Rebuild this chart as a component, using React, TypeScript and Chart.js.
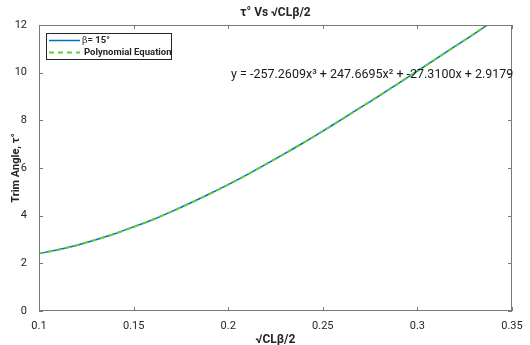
import React, { useEffect, useRef } from "react";
import { Chart, registerables } from "chart.js";

Chart.register(...registerables);

const xValues = [0.1, 0.11, 0.12, 0.13, 0.14, 0.15, 0.16, 0.17, 0.18, 0.19, 0.2, 0.21, 0.22, 0.23, 0.24, 0.25, 0.26, 0.27, 0.28, 0.29, 0.3, 0.31, 0.32, 0.33, 0.337];
const trimAngle = [2.41, 2.57, 2.76, 2.99, 3.24, 3.53, 3.83, 4.17, 4.53, 4.91, 5.3, 5.72, 6.16, 6.61, 7.07, 7.55, 8.04, 8.54, 9.04, 9.55, 10.07, 10.59, 11.11, 11.63, 12.0];
const polyFit = [2.41, 2.57, 2.76, 2.99, 3.24, 3.53, 3.83, 4.17, 4.53, 4.91, 5.3, 5.72, 6.16, 6.61, 7.07, 7.55, 8.04, 8.54, 9.04, 9.55, 10.07, 10.59, 11.11, 11.63, 12.0];
const xTickLabels = ["0.1", "0.15", "0.2", "0.25", "0.3", "0.35"];
const yTickLabels = ["0", "2", "4", "6", "8", "10", "12"];
const titleText = "τ° Vs √CLβ/2";
const xTitle = "√CLβ/2";
const yTitle = "Trim Angle, τ°";
const seriesNames = ["β= 15°", "Polynomial Equation"];
const equationText = "y = -257.2609x³ + 247.6695x² + -27.3100x + 2.9179";

const FONT = "Roboto, 'Liberation Sans', sans-serif";
const AXIS = "#7a7a7a";
const TEXT = "#262626";
const BLUE = "#0072BD";
const GREEN = "#66CC33";

const decorPlugin = {
  id: "decor",
  afterDatasetsDraw(chart: any) {
    const { ctx, chartArea: a, scales } = chart;
    const xs = scales.x;
    const ys = scales.y;
    ctx.save();
    // frame
    ctx.strokeStyle = AXIS;
    ctx.lineWidth = 1;
    ctx.strokeRect(a.left + 0.5, a.top + 0.5, a.right - a.left - 1, a.bottom - a.top - 1);
    // inner ticks
    const tl = 4;
    ctx.beginPath();
    xs.ticks.forEach((t: any) => {
      const px = Math.round(xs.getPixelForValue(t.value)) + 0.5;
      ctx.moveTo(px, a.bottom);
      ctx.lineTo(px, a.bottom - tl);
      ctx.moveTo(px, a.top);
      ctx.lineTo(px, a.top + tl);
    });
    ys.ticks.forEach((t: any) => {
      const py = Math.round(ys.getPixelForValue(t.value)) + 0.5;
      ctx.moveTo(a.left, py);
      ctx.lineTo(a.left + tl, py);
      ctx.moveTo(a.right, py);
      ctx.lineTo(a.right - tl, py);
    });
    ctx.stroke();

    // title
    ctx.fillStyle = TEXT;
    ctx.font = `bold 12px ${FONT}`;
    ctx.textAlign = "center";
    ctx.textBaseline = "middle";
    ctx.fillText(titleText, (a.left + a.right) / 2, 13);

    // equation
    ctx.font = `12.5px ${FONT}`;
    ctx.textAlign = "left";
    ctx.fillStyle = "#1a1a1a";
    ctx.fillText(equationText, xs.getPixelForValue(0.2015), ys.getPixelForValue(9.9));

    // legend
    const lx = a.left + 7;
    const ly = a.top + 8;
    const lw = 125;
    const lh = 26;
    ctx.fillStyle = "#ffffff";
    ctx.fillRect(lx, ly, lw, lh);
    ctx.strokeStyle = "#262626";
    ctx.lineWidth = 1;
    ctx.strokeRect(lx + 0.5, ly + 0.5, lw, lh);
    const ds = chart.data.datasets;
    const rows = [ly + 7.5, ly + 19.5];
    rows.forEach((ry: number, i: number) => {
      ctx.save();
      ctx.strokeStyle = ds[i].borderColor;
      ctx.lineWidth = ds[i].borderWidth;
      ctx.setLineDash(ds[i].borderDash || []);
      ctx.beginPath();
      ctx.moveTo(lx + 3, ry);
      ctx.lineTo(lx + 34, ry);
      ctx.stroke();
      ctx.restore();
    });
    ctx.fillStyle = TEXT;
    ctx.textBaseline = "middle";
    ctx.textAlign = "left";
    ctx.font = `9.5px 'DejaVu Serif', serif`;
    ctx.fillText(seriesNames[0].slice(0, 1), lx + 36, rows[0]);
    const bw = ctx.measureText(seriesNames[0].slice(0, 1)).width;
    ctx.font = `bold 9.5px ${FONT}`;
    ctx.fillText(seriesNames[0].slice(1), lx + 36 + bw, rows[0]);
    ctx.fillText(seriesNames[1], lx + 38, rows[1]);
    ctx.restore();
  },
};

export default function App() {
  const ref = useRef<HTMLCanvasElement | null>(null);
  useEffect(() => {
    document.body.style.margin = "0";
    const canvas = ref.current;
    if (!canvas) return;
    const chart = new Chart(canvas, {
      type: "line",
      data: {
        datasets: [
          {
            label: seriesNames[0],
            data: xValues.map((x, i) => ({ x, y: trimAngle[i] })),
            borderColor: BLUE,
            borderWidth: 1.5,
            pointRadius: 0,
            tension: 0.3,
            fill: false,
            order: 2,
          },
          {
            label: seriesNames[1],
            data: xValues.map((x, i) => ({ x, y: polyFit[i] })),
            borderColor: GREEN,
            borderWidth: 2,
            borderDash: [5, 4],
            pointRadius: 0,
            tension: 0.3,
            fill: false,
            order: 1,
          },
        ],
      },
      options: {
        animation: false,
        responsive: false,
        maintainAspectRatio: false,
        layout: { padding: { top: 25, right: 18, left: 0, bottom: 0 } },
        plugins: {
          legend: { display: false },
          title: { display: false },
          tooltip: { enabled: false },
        },
        scales: {
          x: {
            type: "linear",
            min: 0.1,
            max: 0.35,
            grid: { display: false },
            border: { display: false },
            ticks: {
              stepSize: 0.05,
              color: TEXT,
              padding: 1,
              maxRotation: 0,
              font: { family: FONT, size: 11 },
              callback: (_v: any, i: number) => xTickLabels[i],
            },
            title: {
              display: true,
              text: xTitle,
              color: TEXT,
              font: { family: FONT, size: 12, weight: "bold" },
              padding: { top: 0, bottom: -2 },
            },
            afterFit: (s: any) => {
              s.height = 34;
            },
          },
          y: {
            min: 0,
            max: 12,
            grid: { display: false },
            border: { display: false },
            ticks: {
              stepSize: 2,
              color: TEXT,
              padding: 4,
              font: { family: FONT, size: 11 },
              callback: (_v: any, i: number) => yTickLabels[i],
            },
            title: {
              display: true,
              text: yTitle,
              color: TEXT,
              font: { family: FONT, size: 11, weight: "bold" },
              padding: { top: 10, bottom: 0 },
            },
            afterFit: (s: any) => {
              s.width = 39;
            },
          },
        },
      },
      plugins: [decorPlugin],
    });
    return () => chart.destroy();
  }, []);
  return (
    <div style={{ width: 530, height: 345, background: "#fff" }}>
      <canvas ref={ref} width={530} height={345} style={{ display: "block" }} />
    </div>
  );
}
